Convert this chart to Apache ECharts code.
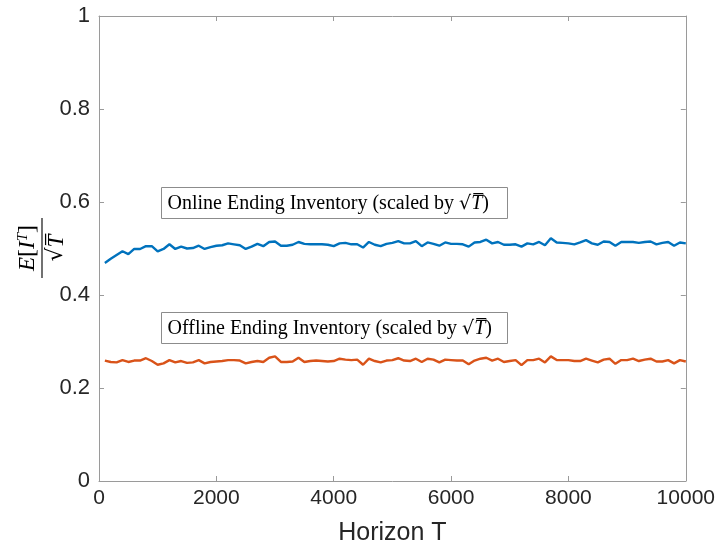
<!DOCTYPE html>
<html>
<head>
<meta charset="utf-8">
<script src="https://cdn.jsdelivr.net/npm/echarts@6/dist/echarts.min.js"></script>
<style>html,body{margin:0;padding:0;background:#fff}#c{width:718px;height:551px}</style>
</head>
<body>
<div id="c"></div>
<script>
// Horizon T values
const horizons = [];
for (let t = 100; t <= 10000; t += 100) horizons.push(t);

// Online ending inventory scaled by sqrt(T)
const onlineValues = [
0.469,0.478,0.486,0.494,0.488,0.499,0.499,0.505,0.505,0.494,
0.499,0.509,0.499,0.504,0.500,0.501,0.506,0.499,0.503,0.506,
0.507,0.511,0.509,0.507,0.499,0.504,0.510,0.505,0.514,0.515,
0.506,0.506,0.508,0.514,0.510,0.509,0.509,0.509,0.508,0.505,
0.511,0.512,0.509,0.509,0.502,0.514,0.508,0.505,0.510,0.512,
0.516,0.511,0.511,0.516,0.505,0.513,0.510,0.506,0.513,0.510,
0.510,0.509,0.504,0.513,0.514,0.519,0.511,0.514,0.508,0.508,
0.509,0.504,0.511,0.509,0.514,0.507,0.522,0.513,0.512,0.511,
0.509,0.513,0.518,0.511,0.508,0.515,0.514,0.506,0.514,0.514,
0.514,0.512,0.514,0.515,0.509,0.512,0.514,0.506,0.513,0.511
];

// Offline ending inventory scaled by sqrt(T)
const offlineValues = [
0.259,0.256,0.255,0.260,0.256,0.259,0.259,0.264,0.258,0.250,
0.253,0.260,0.255,0.258,0.254,0.255,0.260,0.253,0.256,0.257,
0.258,0.260,0.260,0.259,0.253,0.256,0.258,0.256,0.265,0.268,
0.256,0.256,0.257,0.265,0.256,0.258,0.259,0.258,0.257,0.258,
0.263,0.261,0.260,0.261,0.250,0.263,0.258,0.255,0.259,0.260,
0.264,0.259,0.258,0.263,0.256,0.263,0.261,0.255,0.261,0.260,
0.259,0.259,0.251,0.259,0.263,0.265,0.259,0.263,0.256,0.258,
0.260,0.249,0.260,0.260,0.263,0.255,0.268,0.260,0.260,0.260,
0.258,0.258,0.263,0.259,0.255,0.261,0.263,0.252,0.260,0.260,
0.263,0.258,0.261,0.263,0.257,0.257,0.260,0.253,0.260,0.257
];

const xTicks = [0, 2000, 4000, 6000, 8000, 10000];
const yTicks = [0, 0.2, 0.4, 0.6, 0.8, 1];

const onlineData = horizons.map((t, i) => [t, onlineValues[i]]);
const offlineData = horizons.map((t, i) => [t, offlineValues[i]]);

const chart = echarts.init(document.getElementById('c'), null, {renderer: 'canvas'});
const axisGray = '#9a9a9a';
const txt = '#262626';
const sansFont = 'Liberation Sans, Arial, Helvetica, sans-serif';

const boxRich = {
  a: {fontFamily: 'Liberation Serif, serif', fontSize: 20, color: '#1a1a1a'},
  s: {fontFamily: 'DejaVu Serif, serif', fontSize: 19, color: '#1a1a1a'},
  t: {fontFamily: 'Liberation Serif, serif', fontStyle: 'italic', fontSize: 20, color: '#1a1a1a'}
};

function labelBox(x, y, w, h, name) {
  return {
    type: 'group', left: x, top: y,
    children: [
      {type: 'rect', shape: {x: 0, y: 0, width: w, height: h}, style: {fill: '#fff', stroke: '#8c8c8c', lineWidth: 1}},
      {type: 'text', x: 6, y: h / 2 + 1, style: {
        text: '{a|' + name + ' Ending Inventory (scaled by }{s|√}{t|T\u0305}{a|)}',
        rich: boxRich, verticalAlign: 'middle', align: 'left'}}
    ]
  };
}

const option = {
  animation: false,
  backgroundColor: '#fff',
  grid: {left: 99, right: 30, top: 16, bottom: 70, show: false},
  xAxis: [{
    type: 'value', min: 0, max: 10000, interval: 2000,
    name: 'Horizon T', nameLocation: 'middle', nameGap: 40,
    nameTextStyle: {fontFamily: sansFont, fontSize: 25, color: txt},
    axisLine: {show: true, lineStyle: {color: axisGray, width: 1}},
    axisTick: {show: true, inside: true, length: 5, lineStyle: {color: axisGray}},
    axisLabel: {fontFamily: sansFont, fontSize: 21, color: txt, margin: 7,
      formatter: v => xTicks.indexOf(v) >= 0 ? String(v) : ''},
    splitLine: {show: false}
  }, {
    type: 'value', position: 'top', min: 0, max: 10000, interval: 2000,
    axisLine: {show: true, onZero: false, lineStyle: {color: axisGray, width: 1}},
    axisTick: {show: true, inside: true, length: 5, lineStyle: {color: axisGray}},
    axisLabel: {show: false}, splitLine: {show: false}
  }],
  yAxis: [{
    type: 'value', min: 0, max: 1, interval: 0.2,
    axisLine: {show: true, onZero: false, lineStyle: {color: axisGray, width: 1}},
    axisTick: {show: true, inside: true, length: 5, lineStyle: {color: axisGray}},
    axisLabel: {fontFamily: sansFont, fontSize: 22, color: txt, margin: 9,
      formatter: v => { const k = yTicks.find(t => Math.abs(t - v) < 1e-9); return k === undefined ? '' : String(k); }},
    splitLine: {show: false}
  }, {
    type: 'value', position: 'right', min: 0, max: 1, interval: 0.2,
    axisLine: {show: true, onZero: false, lineStyle: {color: axisGray, width: 1}},
    axisTick: {show: true, inside: true, length: 5, lineStyle: {color: axisGray}},
    axisLabel: {show: false}, splitLine: {show: false}
  }],
  series: [{
    name: 'Online', type: 'line', data: onlineData, showSymbol: false,
    lineStyle: {color: '#0072BD', width: 2.4}, itemStyle: {color: '#0072BD'}
  }, {
    name: 'Offline', type: 'line', data: offlineData, showSymbol: false,
    lineStyle: {color: '#D95319', width: 2.4}, itemStyle: {color: '#D95319'}
  }],
  graphic: [
    labelBox(161, 187, 346, 31, 'Online'),
    labelBox(161, 312, 346, 31, 'Offline'),
    {
      type: 'group', x: 42, y: 248, rotation: Math.PI / 2,
      children: [
        {type: 'text', x: 0, y: -2, style: {
          text: '{i|E}{n|[}{i|I}{sup|T}{n|]}',
          rich: {
            i: {fontFamily: 'Liberation Serif, serif', fontStyle: 'italic', fontSize: 23, color: txt},
            n: {fontFamily: 'Liberation Serif, serif', fontSize: 24, color: txt},
            sup: {fontFamily: 'Liberation Serif, serif', fontStyle: 'italic', fontSize: 15, color: txt, verticalAlign: 'top', padding: [0, 0, 8, 0]}
          },
          align: 'center', verticalAlign: 'bottom'}},
        {type: 'line', shape: {x1: -30, y1: 0, x2: 30, y2: 0}, style: {stroke: txt, lineWidth: 1.3}},
        {type: 'text', x: 0, y: 3, style: {
          text: '{s|√}{t|T\u0305}',
          rich: {
            s: {fontFamily: 'DejaVu Serif, serif', fontSize: 22, color: txt},
            t: {fontFamily: 'Liberation Serif, serif', fontStyle: 'italic', fontSize: 23, color: txt}
          },
          align: 'center', verticalAlign: 'top'}}
      ]
    }
  ]
};
chart.setOption(option);
</script>
</body>
</html>
